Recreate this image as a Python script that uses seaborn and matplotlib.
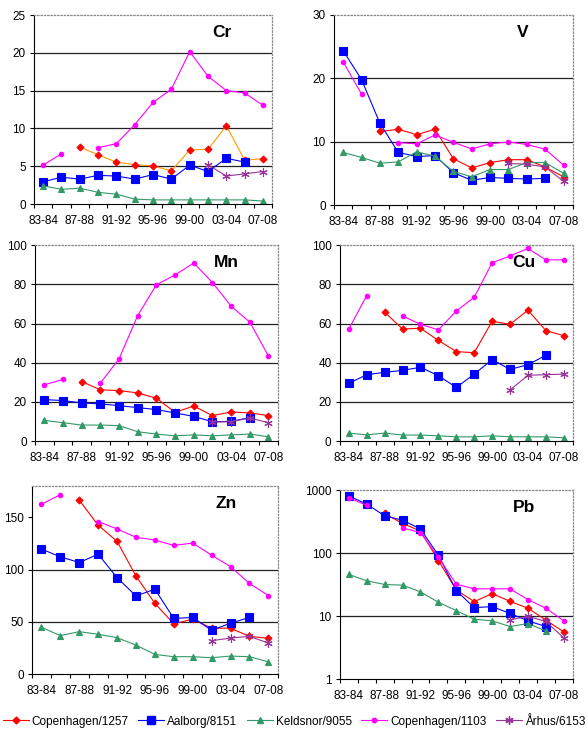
import numpy as np
import pandas as pd
import seaborn as sns
import matplotlib.pyplot as plt
from matplotlib.lines import Line2D

nan = np.nan

# sampling periods (every other one gets a label)
periods = ['83-84', '85-86', '87-88', '89-90', '91-92', '93-94', '95-96',
           '97-98', '99-00', '01-02', '03-04', '05-06', '07-08']
tick_labels = periods[::2]
stations = ['Copenhagen/1257', 'Aalborg/8151', 'Keldsnor/9055',
            'Copenhagen/1103', 'Århus/6153']

# Cr
cr_1257 = [nan, nan, 7.55, 6.5, 5.55, 5.2, 5.05, 4.4, 7.15, 7.25, 10.35, 5.8, 6.0]
cr_8151 = [2.95, 3.55, 3.3, 3.8, 3.7, 3.3, 3.9, 3.3, 5.15, 4.3, 6.05, 5.55, nan]
cr_9055 = [2.4, 1.95, 2.1, 1.55, 1.3, 0.65, 0.55, 0.55, 0.55, 0.55, 0.55, 0.55, 0.4]
cr_1103 = [5.15, 6.65, nan, 7.45, 8.0, 10.5, 13.45, 15.2, 20.15, 16.9, 15.0, 14.7, 13.05]
cr_6153 = [nan, nan, nan, nan, nan, nan, nan, nan, nan, 5.2, 3.7, 4.0, 4.3]

# V
v_1257 = [nan, nan, 11.6, 11.95, 11.1, 11.95, 7.3, 5.85, 6.7, 7.15, 7.15, 6.0, 4.45]
v_8151 = [24.35, 19.8, 12.9, 8.3, 7.65, 7.8, 5.1, 3.9, 4.35, 4.2, 4.1, 4.2, nan]
v_9055 = [8.3, 7.5, 6.6, 6.8, 8.4, 7.7, 5.3, 4.45, 5.6, 5.6, 6.7, 6.7, 5.0]
v_1103 = [22.6, 17.5, nan, 9.85, 9.65, 11.05, 9.9, 8.85, 9.65, 9.95, 9.55, 8.8, 6.3]
v_6153 = [nan, nan, nan, nan, nan, nan, nan, nan, nan, 6.55, 6.45, 6.0, 3.75]

# Mn
mn_1257 = [nan, nan, 30.4, 26.2, 25.8, 24.6, 21.9, 14.7, 17.9, 13.0, 14.9, 14.4, 13.0]
mn_8151 = [21.2, 20.7, 19.5, 19.0, 18.1, 17.1, 16.1, 14.4, 12.6, 9.9, 10.1, 12.0, nan]
mn_9055 = [10.6, 9.4, 8.2, 8.2, 7.9, 4.8, 3.6, 2.7, 3.2, 2.7, 3.2, 3.6, 2.2]
mn_1103 = [28.7, 31.5, nan, 29.6, 42.0, 64.1, 79.8, 84.8, 90.9, 80.9, 68.9, 60.7, 43.4]
mn_6153 = [nan, nan, nan, nan, nan, nan, nan, nan, nan, 9.7, 9.9, 11.8, 9.4]

# Cu
cu_1257 = [nan, nan, 65.8, 57.2, 57.6, 51.4, 45.7, 45.1, 61.2, 59.6, 66.8, 56.4, 53.8]
cu_8151 = [29.5, 33.9, 35.1, 36.1, 37.7, 33.4, 27.4, 34.2, 41.6, 36.6, 39.0, 43.8, nan]
cu_9055 = [4.1, 3.2, 4.1, 3.1, 3.1, 2.7, 2.2, 2.2, 2.7, 2.2, 2.2, 2.2, 1.7]
cu_1103 = [57.2, 74.3, nan, 63.9, 59.6, 56.8, 66.4, 73.4, 91.0, 94.5, 98.3, 92.5, 92.5]
cu_6153 = [nan, nan, nan, nan, nan, nan, nan, nan, nan, 26.1, 33.6, 33.9, 34.2]

# Zn
zn_1257 = [nan, nan, 166.5, 142.6, 127.1, 93.9, 67.7, 48.1, 52.6, 43.9, 43.9, 36.1, 34.2]
zn_8151 = [119.7, 112.3, 106.8, 114.8, 92.3, 74.8, 81.3, 53.2, 54.2, 41.9, 48.7, 54.2, nan]
zn_9055 = [44.8, 36.8, 40.6, 38.1, 34.8, 27.7, 18.8, 16.6, 16.6, 15.6, 17.2, 16.6, 11.7]
zn_1103 = [162.6, 171.9, nan, 146.1, 139.0, 131.0, 128.4, 123.2, 125.5, 113.9, 102.9, 86.8, 75.2]
zn_6153 = [nan, nan, nan, nan, nan, nan, nan, nan, nan, 31.9, 34.5, 36.1, 29.7]

# Pb (log scale)
pb_1257 = [nan, nan, 424, 294, 224, 76, 26, 16.9, 22.7, 17.1, 13.3, 8.6, 5.6]
pb_8151 = [802, 599, 389, 332, 241, 92, 25.3, 13.6, 14.1, 11.0, 8.4, 6.8, nan]
pb_9055 = [45.7, 36.2, 31.7, 30.9, 24.2, 16.5, 12.2, 8.9, 8.4, 6.8, 7.6, 5.8, nan]
pb_1103 = [755, 569, nan, 251, 211, 86, 32, 27, 27, 27, 18.2, 13.3, 8.4]
pb_6153 = [nan, nan, nan, nan, nan, nan, nan, nan, nan, 8.7, 9.9, 8.2, 4.5]

plt.rcParams['font.family'] = ['Liberation Sans', 'DejaVu Sans']

colors = {'Copenhagen/1257': '#FF0000', 'Aalborg/8151': '#0000FF',
          'Keldsnor/9055': '#339966', 'Copenhagen/1103': '#FF00FF',
          'Århus/6153': '#993399'}
markers = {'Copenhagen/1257': ('D', 3.5), 'Aalborg/8151': ('s', 5.5),
           'Keldsnor/9055': ('^', 5), 'Copenhagen/1103': ('o', 3.2),
           'Århus/6153': ((6, 2, 0), 6)}


def draw_panel(ax, name, series, ylim, yticks, log=False):
    for station, values in zip(stations, series):
        df = pd.DataFrame({'x': np.arange(len(periods)), 'y': values})
        # break the line where a value is missing
        df['seg'] = df['y'].isna().cumsum()
        df = df.dropna()
        line_color = colors[station]
        if name == 'Cr' and station == 'Copenhagen/1257':
            line_color = '#FF9900'
        m, ms = markers[station]
        sns.lineplot(data=df, x='x', y='y', units='seg', estimator=None,
                     color=line_color, lw=0.8, marker=m, markersize=ms,
                     markerfacecolor=colors[station],
                     markeredgecolor=colors[station], markeredgewidth=0.8,
                     ax=ax, legend=False)
    if log:
        ax.set_yscale('log')
    ax.set_ylim(*ylim)
    ax.set_yticks(yticks)
    ax.set_yticklabels([str(t) for t in yticks])
    ax.yaxis.set_minor_locator(plt.NullLocator())
    for t in yticks[1:-1]:
        ax.axhline(t, color='#222222', lw=0.9, zorder=0)
    ax.set_xlim(-0.5, len(periods) - 0.5)
    # ticks between categories, labels on every other one
    ax.set_xticks(np.arange(-0.5, len(periods), 1.0))
    ax.set_xticklabels([])
    ax.set_xticks(np.arange(0, len(periods), 2), minor=True)
    ax.set_xticklabels(tick_labels, minor=True)
    ax.tick_params(axis='x', which='major', length=3, width=0.8)
    ax.tick_params(axis='x', which='minor', length=0, pad=8, labelsize=8.5)
    ax.tick_params(axis='y', length=3, width=0.8, pad=3, labelsize=8.5)
    ax.set_xlabel('')
    ax.set_ylabel('')
    for s in ['left', 'bottom']:
        ax.spines[s].set_color('black')
        ax.spines[s].set_linewidth(0.8)
    for s in ['top', 'right']:
        ax.spines[s].set_color('#888888')
        ax.spines[s].set_linestyle(':')
        ax.spines[s].set_linewidth(0.9)
    ax.text(0.79, 0.91, name, transform=ax.transAxes, ha='center', va='center',
            fontsize=12.5, fontweight='bold')


fig = plt.figure(figsize=(5.88, 7.34), dpi=100)
ax_cr = fig.add_axes([0.0578, 0.722, 0.405, 0.2575])
ax_v = fig.add_axes([0.568, 0.7207, 0.406, 0.259])
ax_mn = fig.add_axes([0.0595, 0.399, 0.413, 0.267])
ax_cu = fig.add_axes([0.578, 0.399, 0.396, 0.267])
ax_zn = fig.add_axes([0.0544, 0.0817, 0.418, 0.256])
ax_pb = fig.add_axes([0.578, 0.0749, 0.396, 0.2575])

draw_panel(ax_cr, 'Cr', [cr_1257, cr_8151, cr_9055, cr_1103, cr_6153], (0, 25), [0, 5, 10, 15, 20, 25])
draw_panel(ax_v, 'V', [v_1257, v_8151, v_9055, v_1103, v_6153], (0, 30), [0, 10, 20, 30])
draw_panel(ax_mn, 'Mn', [mn_1257, mn_8151, mn_9055, mn_1103, mn_6153], (0, 100), [0, 20, 40, 60, 80, 100])
draw_panel(ax_cu, 'Cu', [cu_1257, cu_8151, cu_9055, cu_1103, cu_6153], (0, 100), [0, 20, 40, 60, 80, 100])
draw_panel(ax_zn, 'Zn', [zn_1257, zn_8151, zn_9055, zn_1103, zn_6153], (0, 180), [0, 50, 100, 150])
draw_panel(ax_pb, 'Pb', [pb_1257, pb_8151, pb_9055, pb_1103, pb_6153], (1, 1000), [1, 10, 100, 1000], log=True)

handles = []
for station in stations:
    m, ms = markers[station]
    handles.append(Line2D([], [], color=colors[station], lw=0.8, marker=m,
                          markersize=ms, markerfacecolor=colors[station],
                          markeredgecolor=colors[station]))
fig.legend(handles, stations, loc='center', bbox_to_anchor=(0.5, 0.017),
           ncol=5, frameon=False, fontsize=8.5, handlelength=2.2,
           handletextpad=0.25, columnspacing=0.8, borderpad=0.1)

plt.savefig('out.png', dpi=100)
plt.close()
